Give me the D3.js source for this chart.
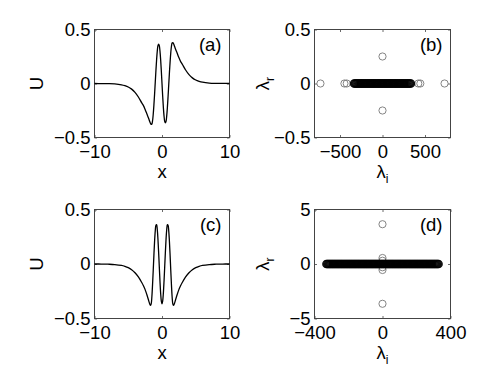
<!DOCTYPE html>
<html>
<head>
<meta charset="utf-8">
<script src="https://cdn.jsdelivr.net/npm/d3@7"></script>
<style>
  body { margin: 0; background: #fff; }
  svg text, svg tspan { font-family: "Liberation Sans", Arial, sans-serif; fill: #000; }
</style>
</head>
<body>
<div id="chart"></div>
<script>
// sample positions for the profiles in (a) and (c)
var profile_x = [-10, -9, -8, -7, -6, -5.5, -5, -4.5, -4, -3.5, -3, -2.75, -2.5, -2.25, -2,
  -1.8, -1.7, -1.6, -1.5, -1.4, -1.3, -1.2, -1.1, -1, -0.9, -0.8, -0.7, -0.6, -0.5, -0.4, -0.3, -0.2, -0.1,
  0, 0.1, 0.2, 0.3, 0.4, 0.5, 0.6, 0.7, 0.8, 0.9, 1, 1.1, 1.2, 1.3, 1.4, 1.5, 1.6, 1.7, 1.8,
  2, 2.25, 2.5, 2.75, 3, 3.5, 4, 4.5, 5, 5.5, 6, 7, 8, 9, 10];

// (a) odd profile
var profile_a = [0, -0.0005, -0.0015, -0.004, -0.012, -0.02, -0.032, -0.052, -0.082, -0.125, -0.18, -0.205, -0.24, -0.28, -0.32,
  -0.355, -0.37, -0.378, -0.375, -0.345, -0.285, -0.2, -0.1, 0.01, 0.12, 0.22, 0.3, 0.35, 0.365, 0.35, 0.3, 0.22, 0.115,
  0, -0.115, -0.22, -0.3, -0.35, -0.365, -0.35, -0.3, -0.22, -0.12, -0.01, 0.1, 0.2, 0.285, 0.345, 0.375, 0.378, 0.37, 0.355,
  0.32, 0.28, 0.24, 0.205, 0.18, 0.125, 0.082, 0.052, 0.032, 0.02, 0.012, 0.004, 0.0015, 0.0005, 0];

// (c) even profile
var profile_c = [0, -0.0005, -0.002, -0.005, -0.013, -0.021, -0.033, -0.052, -0.08, -0.118, -0.17, -0.2, -0.235, -0.28, -0.33,
  -0.37, -0.38, -0.365, -0.3, -0.19, -0.06, 0.081, 0.207, 0.302, 0.356, 0.361, 0.316, 0.228, 0.108, -0.027, -0.158, -0.268, -0.34,
  -0.365, -0.34, -0.268, -0.158, -0.027, 0.108, 0.228, 0.316, 0.361, 0.356, 0.302, 0.207, 0.081, -0.06, -0.19, -0.3, -0.365, -0.38, -0.37,
  -0.33, -0.28, -0.235, -0.2, -0.17, -0.118, -0.08, -0.052, -0.033, -0.021, -0.013, -0.005, -0.002, -0.0005, 0];

// (b) spectrum: dense part on the real axis, then isolated eigenvalues
var spec_b_dense = [-335, -325, -315, -305, -295, -285, -275, -265, -255, -245, -235, -225, -215, -205, -195, -185, -175,
  -165, -155, -145, -135, -125, -115, -105, -95, -85, -75, -65, -55, -45, -35, -25, -15, -5, 5, 15, 25, 35, 45, 55, 65,
  75, 85, 95, 105, 115, 125, 135, 145, 155, 165, 175, 185, 195, 205, 215, 225, 235, 245, 255, 265, 275, 285, 295, 305,
  315, 325, 335];
var spec_b_iso_i = [-730, -448, -421, 421, 445, 730, 0, 0];
var spec_b_iso_r = [0, 0, 0, 0, 0, 0, 0.25, -0.25];

// (d) spectrum
var spec_d_dense = [-330, -325, -320, -315, -310, -305, -300, -295, -290, -285, -280, -275, -270, -265, -260, -255,
  -250, -245, -240, -235, -230, -225, -220, -215, -210, -205, -200, -195, -190, -185, -180, -175, -170, -165, -160,
  -155, -150, -145, -140, -135, -130, -125, -120, -115, -110, -105, -100, -95, -90, -85, -80, -75, -70, -65, -60,
  -55, -50, -45, -40, -35, -30, -25, -20, -15, -10, -5, 0, 5, 10, 15, 20, 25, 30, 35, 40, 45, 50, 55, 60, 65, 70,
  75, 80, 85, 90, 95, 100, 105, 110, 115, 120, 125, 130, 135, 140, 145, 150, 155, 160, 165, 170, 175, 180, 185,
  190, 195, 200, 205, 210, 215, 220, 225, 230, 235, 240, 245, 250, 255, 260, 265, 270, 275, 280, 285, 290, 295,
  300, 305, 310, 315, 320, 325, 330];
var spec_d_iso_i = [0, 0, 0, 0, 0, 0];
var spec_d_iso_r = [3.65, -3.65, 0.55, -0.55, 0.3, -0.3];

var ticks_x_profile = [-10, 0, 10];
var ticks_y_profile = [-0.5, 0, 0.5];
var ticks_x_b = [-500, 0, 500];
var ticks_y_b = [-0.5, 0, 0.5];
var ticks_x_d = [-400, 0, 400];
var ticks_y_d = [-5, 0, 5];

var svg = d3.select('#chart').append('svg')
    .attr('width', 500)
    .attr('height', 382);

var font_size = 18.5;
var fmt = d3.format('~g');

// draws box, ticks (inside, all four sides) and labels, returns scales
function make_axes(p) {
    var x = d3.scaleLinear().domain(p.xdom).range([p.left, p.left + p.w]);
    var y = d3.scaleLinear().domain(p.ydom).range([p.top + p.h, p.top]);
    var g = svg.append('g');

    var bottom = d3.axisBottom(x).tickValues(p.xticks).tickSizeInner(-2.5).tickSizeOuter(0).tickPadding(7).tickFormat(fmt);
    var top = d3.axisTop(x).tickValues(p.xticks).tickSizeInner(-2.5).tickSizeOuter(0).tickFormat('');
    var left = d3.axisLeft(y).tickValues(p.yticks).tickSizeInner(-2.5).tickSizeOuter(0).tickPadding(4).tickFormat(fmt);
    var right = d3.axisRight(y).tickValues(p.yticks).tickSizeInner(-2.5).tickSizeOuter(0).tickFormat('');

    [[bottom, 'translate(0,' + (p.top + p.h) + ')'],
     [top, 'translate(0,' + p.top + ')'],
     [left, 'translate(' + p.left + ',0)'],
     [right, 'translate(' + (p.left + p.w) + ',0)']].forEach(function(a) {
        var ax = g.append('g').attr('transform', a[1]).call(a[0]);
        ax.select('.domain').remove();
        ax.selectAll('line').attr('stroke', '#444').attr('stroke-width', 0.8);
        ax.selectAll('text').attr('font-size', font_size + 'px').attr('fill', '#000')
          .style('font-family', '"Liberation Sans", Arial, sans-serif');
    });

    g.append('rect')
        .attr('x', p.left).attr('y', p.top)
        .attr('width', p.w).attr('height', p.h)
        .attr('fill', 'none').attr('stroke', '#444').attr('stroke-width', 1);

    // panel tag
    g.append('text')
        .attr('x', p.left + p.w - 8).attr('y', p.top + 21)
        .attr('text-anchor', 'end')
        .attr('font-size', font_size + 'px')
        .text(p.tag);

    // x label
    var xl = g.append('text')
        .attr('x', p.left + p.w / 2).attr('y', p.top + p.h + 40)
        .attr('text-anchor', 'middle')
        .attr('font-size', font_size + 'px');
    xl.append('tspan').attr('fill', '#000').text(p.xlab[0]);
    if (p.xlab[1]) xl.append('tspan').attr('fill', '#000').attr('dy', 5).attr('font-size', '12px').text(p.xlab[1]);

    // y label
    var yl = g.append('text')
        .attr('transform', 'translate(' + p.ylx + ',' + (p.top + p.h / 2) + ') rotate(-90)')
        .attr('text-anchor', 'middle')
        .attr('font-size', font_size + 'px');
    yl.append('tspan').attr('fill', '#000').text(p.ylab[0]);
    if (p.ylab[1]) yl.append('tspan').attr('fill', '#000').attr('dy', 5).attr('font-size', '12px').text(p.ylab[1]);

    return {x: x, y: y};
}

function draw_profile(p, xs, us) {
    var s = make_axes(p);
    var pts = xs.map(function(v, i) { return [v, us[i]]; });
    svg.append('path')
        .datum(pts)
        .attr('d', d3.line()
            .x(function(d) { return s.x(d[0]); })
            .y(function(d) { return s.y(d[1]); })
            .curve(d3.curveCatmullRom.alpha(0.5)))
        .attr('fill', 'none')
        .attr('stroke', '#000')
        .attr('stroke-width', 1.3);
}

function draw_spectrum(p, dense, iso_i, iso_r) {
    var s = make_axes(p);
    var iso = iso_i.map(function(v, i) { return [v, iso_r[i]]; });
    svg.append('g').selectAll('circle')
        .data(iso)
        .enter()
        .append('circle')
        .attr('cx', function(d) { return s.x(d[0]); })
        .attr('cy', function(d) { return s.y(d[1]); })
        .attr('r', 3.6)
        .attr('fill', 'none')
        .attr('stroke', '#777')
        .attr('stroke-width', 0.9);

    svg.append('g').selectAll('circle')
        .data(dense)
        .enter()
        .append('circle')
        .attr('cx', function(d) { return s.x(d); })
        .attr('cy', s.y(0))
        .attr('r', 3.6)
        .attr('fill', 'none')
        .attr('stroke', '#000')
        .attr('stroke-opacity', 0.9)
        .attr('stroke-width', 1.4);
}

draw_profile({left: 94.5, top: 29.5, w: 135, h: 108, xdom: [-10, 10], ydom: [-0.5, 0.5],
    xticks: ticks_x_profile, yticks: ticks_y_profile, tag: '(a)', xlab: ['x'], ylab: ['U'], ylx: 43},
    profile_x, profile_a);

draw_spectrum({left: 314.5, top: 29.5, w: 136, h: 108, xdom: [-800, 800], ydom: [-0.5, 0.5],
    xticks: ticks_x_b, yticks: ticks_y_b, tag: '(b)', xlab: ['λ', 'i'], ylab: ['λ', 'r'], ylx: 269},
    spec_b_dense, spec_b_iso_i, spec_b_iso_r);

draw_profile({left: 94.5, top: 209.5, w: 135, h: 109, xdom: [-10, 10], ydom: [-0.5, 0.5],
    xticks: ticks_x_profile, yticks: ticks_y_profile, tag: '(c)', xlab: ['x'], ylab: ['U'], ylx: 43},
    profile_x, profile_c);

draw_spectrum({left: 314.5, top: 209.5, w: 136, h: 109, xdom: [-400, 400], ydom: [-5, 5],
    xticks: ticks_x_d, yticks: ticks_y_d, tag: '(d)', xlab: ['λ', 'i'], ylab: ['λ', 'r'], ylx: 269},
    spec_d_dense, spec_d_iso_i, spec_d_iso_r);
</script>
</body>
</html>
